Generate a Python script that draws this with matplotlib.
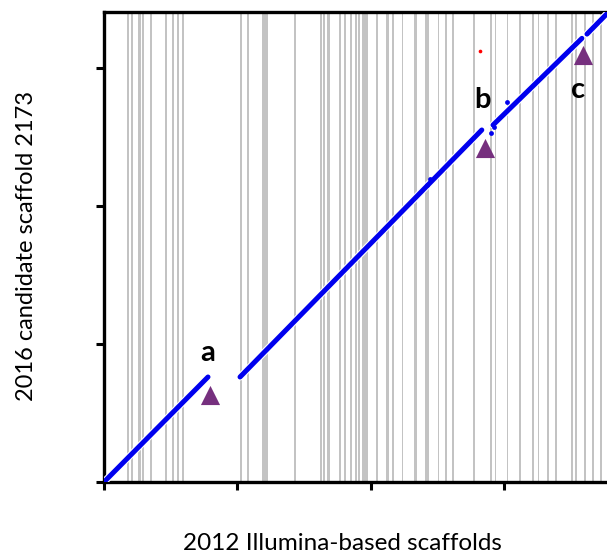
import matplotlib
matplotlib.use("Agg")
import matplotlib.pyplot as plt
import matplotlib.patheffects as pe

# gray bands: scaffold boundaries on the 2012 assembly (start, end)
band_start = [17.0, 20.0, 25.7, 28.2, 34.5, 45.7, 50.7, 54.9, 58.2, 101.9,
              106.9, 118.1, 142.5, 161.8, 164.4, 167.4, 176.0, 180.1, 184.3, 188.0,
              190.6, 192.9, 195.1, 203.4, 211.6, 215.7, 223.2, 232.2, 240.8, 250.0,
              255.4, 260.4, 276.6, 289.5, 292.9, 301.9, 310.9, 320.6, 325.1, 331.5,
              337.8, 349.8, 352.8, 359.9, 365.5, 371.5]
band_end = [19.0, 21.9, 27.5, 30.2, 36.2, 47.0, 52.4, 56.4, 59.9, 103.7,
            108.8, 122.5, 143.8, 163.3, 165.5, 169.3, 177.9, 181.6, 185.8, 189.5,
            192.1, 194.4, 197.8, 205.0, 213.3, 217.2, 224.3, 234.1, 243.4, 251.3,
            256.7, 262.2, 277.9, 291.0, 294.0, 302.8, 312.4, 322.1, 326.2, 333.0,
            339.3, 351.3, 354.7, 361.0, 367.0, 373.0]

# aligned segments (x = 2012 scaffolds, y = 2016 scaffold 2173)
seg_x = [[0.0, 77.9], [101.9, 283.0], [291.4, 358.0], [361.8, 381.0]]
seg_y = [[0.0, 76.1], [76.1, 255.1], [258.7, 321.5], [324.6, 343.5]]

# stray hits
blue_x = [244.2, 301.6, 290.2, 241.6, 292.0]
blue_y = [219.8, 275.6, 252.7, 215.2, 257.5]
red_x = [281.4]
red_y = [312.3]

# breakpoints
tri_x = [79.4, 285.4, 358.6]
tri_y = [63.0, 241.8, 309.4]
labels = ["a", "b", "c"]
label_x = [77.9, 283.9, 355.1]
label_y = [93.5, 276.8, 284.1]

plt.rcParams["font.family"] = ["Lato", "DejaVu Sans"]

fig = plt.figure(figsize=(6.07, 5.56), dpi=100)
ax = fig.add_axes([104 / 607, 74 / 556, 503 / 607, 470 / 556])

for s, e in zip(band_start, band_end):
    ax.axvspan(s, e, color="#c3c3c3", lw=0, zorder=1)

halo = [pe.Stroke(linewidth=5.2, foreground="white"), pe.Normal()]
for xs, ys in zip(seg_x, seg_y):
    ax.plot(xs, ys, color="#0000ee", lw=3.6, solid_capstyle="round",
            path_effects=halo, zorder=3)
ax.scatter(blue_x, blue_y, s=12, color="#0000ee", lw=0, zorder=4)
ax.scatter(red_x, red_y, s=7, color="#ff0000", lw=0, zorder=4)

ax.scatter(tri_x, tri_y, marker="^", s=190, color="#76307e", lw=0, zorder=5)
for t, lx, ly in zip(labels, label_x, label_y):
    ax.text(lx, ly, t, ha="center", va="center", fontsize=21,
            fontweight="bold", zorder=6)

ax.set_xlim(0, 376.8)
ax.set_ylim(0, 340.6)
ax.set_xticks([0, 100, 200, 300])
ax.set_yticks([0, 100, 200, 300])
ax.set_xticklabels([])
ax.set_yticklabels([])
ax.tick_params(direction="out", length=6, width=2.2, color="black")
for side in ["left", "bottom", "top"]:
    ax.spines[side].set_linewidth(2.4)
ax.spines["right"].set_visible(False)

fig.text(342 / 607, 1 - 543 / 556, "2012 Illumina-based scaffolds",
         ha="center", va="center", fontsize=17.5)
fig.text(27 / 607, 1 - 246 / 556, "2016 candidate scaffold 2173",
         ha="center", va="center", rotation=90, fontsize=17)

fig.savefig("out.png", dpi=100)
